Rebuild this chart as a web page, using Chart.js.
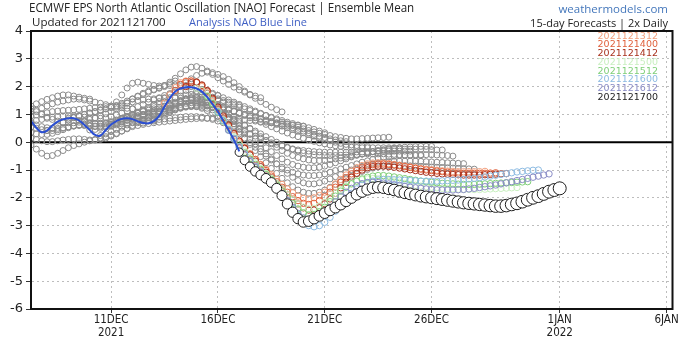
<!DOCTYPE html>
<html>
<head>
<meta charset="utf-8">
<script src="https://cdn.jsdelivr.net/npm/chart.js@4.4.0/dist/chart.umd.min.js"></script>
<style>
  html, body { margin: 0; padding: 0; background: #fff; }
  #wrap { position: relative; width: 680px; height: 339px; overflow: hidden; }
  #nao { position: absolute; left: 0; top: 0; }
  .txt { position: absolute; white-space: nowrap; font-family: 'Open Sans', 'Noto Sans', sans-serif; color: #222; line-height: 1; }
  #title { left: 29px; top: 1px; font-size: 13.5px; transform: scaleX(0.86); transform-origin: left top; }
  #updated { left: 32px; top: 16px; font-size: 11.5px; }
  #analysis { left: 189px; top: 16px; font-size: 11px; color: #3f5fc4; }
  #site { right: 12px; top: 3px; font-size: 11.5px; color: #4477bb; }
  #freq { right: 12px; top: 17px; font-size: 11px; }
  #runs { position: absolute; right: 22px; top: 31.5px; text-align: right; font: 9.5px 'DejaVu Sans', sans-serif; line-height: 8.8px; }
</style>
</head>
<body>
<div id="wrap">
  <canvas id="nao" width="680" height="339"></canvas>
  <div class="txt" id="title">ECMWF EPS North Atlantic Oscillation [NAO] Forecast | Ensemble Mean</div>
  <div class="txt" id="updated">Updated for 2021121700</div>
  <div class="txt" id="analysis">Analysis NAO Blue Line</div>
  <div class="txt" id="site">weathermodels.com</div>
  <div class="txt" id="freq">15-day Forecasts | 2x Daily</div>
  <div id="runs"></div>
</div>
<script>
// x values are days counted from 1 Dec 2021 00Z (1 Jan = 32), one point every 6 hours
const STEP = 0.25;
const xTickDays = [11, 16, 21, 26, 32, 37];
const xTickLabels = [['11DEC', '2021'], '16DEC', '21DEC', '26DEC', ['1JAN', '2022'], '6JAN'];

// analysis (blue line), from 7 Dec 06Z
const analysisStart = 7.25;
const analysis = [0.77, 0.52, 0.36, 0.42, 0.6, 0.74, 0.82, 0.86, 0.86, 0.78, 0.62, 0.44,
  0.26, 0.24, 0.44, 0.64, 0.76, 0.84, 0.86, 0.83, 0.75, 0.69, 0.68, 0.76,
  0.95, 1.28, 1.58, 1.82, 1.93, 1.98, 1.98, 1.93, 1.82, 1.62, 1.37, 1.1,
  0.77, 0.43, 0.08, -0.33];

// older runs (grey), [first day shown, values]
const gNov25 = [7.25, [1.3, 1.38, 1.46, 1.54, 1.6, 1.66, 1.7, 1.7, 1.66, 1.62, 1.58, 1.55]];
const gNov27 = [7.25, [1.1, 1.15, 1.22, 1.3, 1.38, 1.44, 1.48, 1.52, 1.55, 1.55, 1.52, 1.48,
  1.44, 1.4, 1.35, 1.3, 1.26, 1.24, 1.22, 1.2]];
const gNov29 = [7.25, [0.95, 0.98, 1.02, 1.06, 1.1, 1.12, 1.14, 1.15, 1.16, 1.18, 1.2, 1.22,
  1.24, 1.26, 1.28, 1.3, 1.45, 1.7, 1.95, 2.12, 2.16, 2.12, 2.08, 2.04, 2.02, 2.04, 2.1, 2.2]];
const gDec01 = [7.25, [0.75, 0.78, 0.82, 0.86, 0.9, 0.92, 0.94, 0.95, 0.95, 0.93, 0.9, 0.88,
  0.86, 0.86, 0.88, 0.92, 0.98, 1.05, 1.12, 1.2, 1.28, 1.36, 1.44, 1.52,
  1.6, 1.68, 1.75, 1.8, 1.84, 1.86, 1.86, 1.84, 1.8, 1.76, 1.72, 1.68]];
const gDec02 = [7.25, [0.55, 0.5, 0.45, 0.42, 0.42, 0.45, 0.5, 0.55, 0.6, 0.62, 0.62, 0.6,
  0.58, 0.58, 0.6, 0.65, 0.72, 0.8, 0.88, 0.96, 1.04, 1.12, 1.2, 1.28,
  1.36, 1.44, 1.52, 1.6, 1.66, 1.7, 1.72, 1.72, 1.7, 1.66, 1.62, 1.56, 1.5, 1.44, 1.38, 1.32]];
const gDec03 = [7.25, [1.2, 1.1, 1.0, 0.9, 0.82, 0.76, 0.72, 0.7, 0.7, 0.72, 0.76, 0.82,
  0.88, 0.95, 1.02, 1.1, 1.2, 1.3, 1.42, 1.55, 1.66, 1.76, 1.84, 1.9,
  1.96, 2.04, 2.16, 2.3, 2.46, 2.6, 2.7, 2.72, 2.66, 2.56, 2.44, 2.32,
  2.2, 2.08, 1.98, 1.88, 1.8, 1.72, 1.66, 1.6]];
const gDec04 = [7.25, [0.35, 0.3, 0.28, 0.28, 0.32, 0.38, 0.45, 0.52, 0.58, 0.62, 0.65, 0.66,
  0.66, 0.65, 0.66, 0.7, 0.76, 0.84, 0.92, 1.0, 1.08, 1.16, 1.25, 1.35,
  1.46, 1.58, 1.72, 1.86, 2.0, 2.14, 2.28, 2.4, 2.48, 2.52, 2.5, 2.44,
  2.36, 2.26, 2.14, 2.0, 1.84, 1.7, 1.58, 1.46, 1.36, 1.26, 1.17, 1.09]];
const gDec05 = [7.25, [-0.1, -0.25, -0.4, -0.5, -0.48, -0.4, -0.3, -0.2, -0.12, -0.06, 0.0, 0.05,
  0.1, 0.15, 0.2, 0.25, 0.32, 0.4, 0.48, 0.56, 0.6, 0.64, 0.67, 0.7,
  0.72, 0.74, 0.76, 0.78, 0.8, 0.82, 0.84, 0.85, 0.86, 0.86, 0.86, 0.86,
  0.85, 0.84, 0.83, 0.82, 0.8, 0.78, 0.76, 0.74, 0.72, 0.7, 0.68, 0.66, 0.64, 0.62, 0.6, 0.58]];
const gDec06 = [7.25, [0.15, 0.1, 0.05, 0.02, 0.02, 0.05, 0.08, 0.1, 0.12, 0.12, 0.1, 0.08,
  0.08, 0.1, 0.15, 0.22, 0.3, 0.4, 0.5, 0.6, 0.7, 0.8, 0.9, 1.0,
  1.1, 1.2, 1.3, 1.4, 1.48, 1.55, 1.6, 1.62, 1.62, 1.6, 1.56, 1.5,
  1.44, 1.38, 1.32, 1.26, 1.2, 1.14, 1.08, 1.02, 0.96, 0.9, 0.84, 0.78,
  0.72, 0.67, 0.62, 0.57, 0.52, 0.46, 0.4, 0.34]];
const gDec07 = [7.25, [0.7, 0.62, 0.56, 0.52, 0.5, 0.5, 0.52, 0.55, 0.58, 0.6, 0.6, 0.58,
  0.56, 0.55, 0.56, 0.6, 0.66, 0.72, 0.78, 0.85, 0.9, 0.95, 1.0, 1.04,
  1.08, 1.12, 1.16, 1.2, 1.24, 1.28, 1.3, 1.32, 1.32, 1.3, 1.28, 1.24,
  1.2, 1.15, 1.1, 1.05, 1.0, 0.95, 0.9, 0.85, 0.8, 0.75, 0.7, 0.64,
  0.58, 0.52, 0.46, 0.4, 0.34, 0.28, 0.22, 0.17, 0.12, 0.08, 0.05, 0.02]];
const gDec08 = [8.0, [0.42, 0.5, 0.6, 0.7, 0.8, 0.88, 0.95, 1.0, 1.05, 1.1, 1.15, 1.2, 1.25,
  1.3, 1.35, 1.4, 1.45, 1.5, 1.52, 1.55, 1.56, 1.58, 1.6, 1.6, 1.6,
  1.58, 1.56, 1.52, 1.48, 1.44, 1.4, 1.35, 1.3, 1.24, 1.18, 1.12, 1.06,
  1.0, 0.94, 0.88, 0.82, 0.76, 0.7, 0.64, 0.58, 0.52, 0.46, 0.4, 0.34,
  0.28, 0.22, 0.16, 0.1, 0.05, 0.0, -0.04, -0.08, -0.1, -0.12, -0.14, -0.15]];
const gDec09 = [9.0, [0.86, 0.9, 0.95, 1.0, 1.05, 1.1, 1.15, 1.2, 1.25, 1.32, 1.4, 1.48, 1.56,
  1.64, 1.72, 1.8, 1.88, 1.94, 2.0, 2.04, 2.06, 2.06, 2.04, 2.0, 1.95,
  1.9, 1.84, 1.76, 1.68, 1.6, 1.52, 1.44, 1.36, 1.28, 1.2, 1.12, 1.04,
  0.96, 0.88, 0.8, 0.72, 0.66, 0.6, 0.54, 0.48, 0.42, 0.37, 0.32, 0.28,
  0.24, 0.2, 0.17, 0.14, 0.12, 0.12, 0.13, 0.14, 0.15, 0.16, 0.17, 0.18]];
const gDec09h = [9.5, [0.78, 0.74, 0.7, 0.68, 0.68, 0.7, 0.74, 0.8, 0.86, 0.92, 0.98, 1.04, 1.1,
  1.15, 1.2, 1.25, 1.3, 1.35, 1.4, 1.44, 1.48, 1.5, 1.5, 1.48, 1.45,
  1.4, 1.34, 1.27, 1.2, 1.12, 1.04, 0.96, 0.88, 0.8, 0.72, 0.64, 0.56,
  0.48, 0.4, 0.33, 0.26, 0.2, 0.14, 0.08, 0.03, -0.02, -0.06, -0.1, -0.13,
  -0.15, -0.17, -0.18, -0.19, -0.2, -0.2, -0.2, -0.2, -0.2, -0.2, -0.2, -0.2]];
const gDec10 = [10.0, [0.44, 0.46, 0.5, 0.54, 0.58, 0.62, 0.66, 0.7, 0.72, 0.74, 0.76, 0.78, 0.8,
  0.82, 0.84, 0.86, 0.88, 0.9, 0.92, 0.92, 0.92, 0.9, 0.86, 0.82, 0.76,
  0.7, 0.62, 0.54, 0.46, 0.38, 0.3, 0.22, 0.14, 0.06, -0.02, -0.08, -0.14,
  -0.2, -0.24, -0.28, -0.3, -0.32, -0.34, -0.35, -0.36, -0.36, -0.36, -0.36, -0.36,
  -0.36, -0.35, -0.35, -0.34, -0.34, -0.33, -0.33, -0.32, -0.32, -0.32, -0.32, -0.32]];
const gDec10h = [10.5, [0.24, 0.3, 0.38, 0.46, 0.54, 0.62, 0.7, 0.76, 0.82, 0.88, 0.94, 1.0, 1.06,
  1.12, 1.18, 1.22, 1.26, 1.28, 1.28, 1.26, 1.22, 1.16, 1.08, 1.0, 0.9,
  0.8, 0.7, 0.6, 0.5, 0.4, 0.3, 0.2, 0.1, 0.0, -0.1, -0.18, -0.26,
  -0.32, -0.38, -0.42, -0.45, -0.47, -0.48, -0.48, -0.48, -0.47, -0.46, -0.45, -0.44,
  -0.43, -0.42, -0.42, -0.42, -0.42, -0.43, -0.44, -0.45, -0.46, -0.47, -0.48, -0.48]];
const gDec11 = [11.0, [0.64, 0.7, 0.76, 0.82, 0.88, 0.94, 1.0, 1.06, 1.12, 1.2, 1.28, 1.36, 1.44,
  1.5, 1.54, 1.56, 1.56, 1.52, 1.46, 1.38, 1.28, 1.16, 1.04, 0.9, 0.76,
  0.62, 0.48, 0.34, 0.2, 0.06, -0.06, -0.18, -0.3, -0.4, -0.48, -0.55, -0.6,
  -0.64, -0.66, -0.66, -0.65, -0.63, -0.6, -0.57, -0.54, -0.5, -0.46, -0.42, -0.38,
  -0.34, -0.3, -0.27, -0.24, -0.22, -0.2, -0.18, -0.17, -0.16, -0.15, -0.15, -0.15]];
const gDec11h = [11.5, [0.84, 0.88, 0.92, 0.96, 1.0, 1.04, 1.08, 1.12, 1.18, 1.24, 1.3, 1.36, 1.4,
  1.42, 1.42, 1.4, 1.34, 1.26, 1.16, 1.04, 0.9, 0.76, 0.6, 0.44, 0.28,
  0.12, -0.04, -0.2, -0.34, -0.48, -0.6, -0.72, -0.8, -0.86, -0.9, -0.92, -0.92,
  -0.9, -0.86, -0.8, -0.74, -0.67, -0.6, -0.53, -0.47, -0.42, -0.38, -0.34, -0.31,
  -0.29, -0.27, -0.26, -0.25, -0.25, -0.25, -0.25, -0.25, -0.26, -0.27, -0.28, -0.28]];
const gDec12 = [12.0, [0.83, 0.86, 0.9, 0.94, 1.0, 1.06, 1.12, 1.18, 1.24, 1.28, 1.3, 1.3, 1.28,
  1.22, 1.14, 1.04, 0.92, 0.78, 0.62, 0.46, 0.3, 0.14, -0.02, -0.18, -0.34,
  -0.5, -0.64, -0.78, -0.9, -1.0, -1.08, -1.14, -1.18, -1.2, -1.2, -1.18, -1.14,
  -1.08, -1.02, -0.96, -0.9, -0.84, -0.78, -0.72, -0.67, -0.62, -0.58, -0.55, -0.52,
  -0.5, -0.48, -0.47, -0.46, -0.45, -0.45, -0.45, -0.45, -0.46, -0.47, -0.48, -0.5]];
const gDec12h = [12.5, [0.69, 0.76, 0.84, 0.92, 1.0, 1.08, 1.16, 1.24, 1.3, 1.34, 1.36, 1.36, 1.32,
  1.24, 1.14, 1.0, 0.84, 0.66, 0.48, 0.3, 0.12, -0.06, -0.24, -0.42, -0.6,
  -0.78, -0.96, -1.12, -1.26, -1.38, -1.46, -1.5, -1.5, -1.46, -1.4, -1.32, -1.24,
  -1.16, -1.08, -1.0, -0.93, -0.87, -0.82, -0.78, -0.75, -0.72, -0.7, -0.69, -0.68,
  -0.68, -0.68, -0.68, -0.69, -0.7, -0.71, -0.72, -0.73, -0.74, -0.75, -0.76, -0.77]];
const gDec13 = [13.0, [0.76, 0.9, 1.06, 1.22, 1.36, 1.48, 1.56, 1.6, 1.6, 1.55, 1.46, 1.34, 1.18,
  1.0, 0.8, 0.58, 0.36, 0.14, -0.08, -0.3, -0.52, -0.74, -0.94, -1.12, -1.3,
  -1.46, -1.6, -1.72, -1.8, -1.84, -1.84, -1.8, -1.72, -1.62, -1.52, -1.42, -1.32,
  -1.22, -1.13, -1.05, -0.98, -0.93, -0.89, -0.86, -0.84, -0.83, -0.83, -0.84, -0.85,
  -0.86, -0.87, -0.88, -0.89, -0.9, -0.91, -0.92, -0.93, -0.94, -0.95, -0.96, -0.97]];

// latest runs (coloured), one list each, starting at the run time
const c1312 = [13.5, [1.4, 1.7, 1.96, 2.14, 2.2, 2.2, 2.14, 2.0, 1.78, 1.46, 1.14, 0.82, 0.52,
  0.24, -0.02, -0.24, -0.44, -0.62, -0.8, -0.98, -1.16, -1.34, -1.52, -1.68, -1.82,
  -1.94, -2.02, -2.04, -2.0, -1.92, -1.8, -1.66, -1.5, -1.34, -1.18, -1.04, -0.92,
  -0.84, -0.78, -0.75, -0.74, -0.75, -0.77, -0.8, -0.83, -0.86, -0.89, -0.92, -0.95,
  -0.97, -0.99, -1.01, -1.03, -1.04, -1.05, -1.06, -1.06, -1.06, -1.06, -1.06, -1.05]];
const c1400 = [14.0, [1.86, 2.08, 2.18, 2.2, 2.16, 2.04, 1.84, 1.54, 1.2, 0.88, 0.58, 0.3, 0.04,
  -0.2, -0.42, -0.62, -0.82, -1.02, -1.22, -1.42, -1.62, -1.8, -1.96, -2.1, -2.2,
  -2.24, -2.2, -2.1, -1.96, -1.8, -1.62, -1.44, -1.28, -1.14, -1.02, -0.92, -0.85,
  -0.81, -0.79, -0.79, -0.8, -0.82, -0.85, -0.88, -0.91, -0.94, -0.97, -1.0, -1.02,
  -1.04, -1.06, -1.08, -1.1, -1.11, -1.12, -1.12, -1.12, -1.12, -1.12, -1.11, -1.1]];
const c1412 = [14.5, [2.0, 2.14, 2.16, 2.06, 1.86, 1.58, 1.26, 0.94, 0.62, 0.32, 0.04, -0.22, -0.46,
  -0.68, -0.88, -1.08, -1.28, -1.48, -1.68, -1.88, -2.06, -2.22, -2.36, -2.44, -2.44,
  -2.36, -2.22, -2.04, -1.84, -1.64, -1.44, -1.26, -1.12, -1.0, -0.92, -0.88, -0.86,
  -0.86, -0.88, -0.9, -0.93, -0.96, -0.99, -1.02, -1.05, -1.08, -1.1, -1.12, -1.14,
  -1.15, -1.16, -1.17, -1.18, -1.18, -1.18, -1.18, -1.17, -1.16, -1.15, -1.14, -1.13]];
const c1500 = [15.0, [1.94, 1.86, 1.68, 1.42, 1.12, 0.8, 0.5, 0.2, -0.08, -0.32, -0.54, -0.74, -0.94,
  -1.12, -1.3, -1.48, -1.68, -1.88, -2.06, -2.22, -2.34, -2.4, -2.38, -2.3, -2.16,
  -2.0, -1.84, -1.7, -1.58, -1.48, -1.4, -1.35, -1.32, -1.31, -1.32, -1.34, -1.37,
  -1.4, -1.44, -1.48, -1.52, -1.55, -1.58, -1.6, -1.62, -1.64, -1.66, -1.67, -1.68,
  -1.69, -1.7, -1.7, -1.7, -1.7, -1.69, -1.68, -1.67, -1.66, -1.65, -1.64, -1.63]];
const c1512 = [15.5, [1.64, 1.38, 1.08, 0.76, 0.44, 0.14, -0.14, -0.38, -0.6, -0.8, -0.98, -1.16, -1.34,
  -1.54, -1.76, -1.98, -2.2, -2.4, -2.54, -2.62, -2.6, -2.5, -2.34, -2.14, -1.94,
  -1.76, -1.62, -1.5, -1.4, -1.32, -1.26, -1.22, -1.2, -1.2, -1.22, -1.25, -1.28,
  -1.31, -1.34, -1.37, -1.4, -1.42, -1.44, -1.46, -1.48, -1.49, -1.5, -1.51, -1.52,
  -1.52, -1.52, -1.51, -1.5, -1.49, -1.48, -1.47, -1.46, -1.45, -1.44, -1.43, -1.42]];
const c1600 = [16.0, [1.1, 0.78, 0.46, 0.14, -0.16, -0.42, -0.66, -0.86, -1.04, -1.22, -1.4, -1.6, -1.84,
  -2.1, -2.38, -2.64, -2.86, -3.0, -3.04, -3.0, -2.88, -2.7, -2.48, -2.26, -2.04,
  -1.84, -1.68, -1.55, -1.46, -1.4, -1.36, -1.34, -1.34, -1.35, -1.36, -1.37, -1.38,
  -1.39, -1.4, -1.4, -1.4, -1.4, -1.39, -1.38, -1.37, -1.36, -1.34, -1.32, -1.3,
  -1.28, -1.25, -1.22, -1.19, -1.16, -1.13, -1.1, -1.07, -1.05, -1.03, -1.01, -1.0]];
const c1612 = [16.5, [0.43, 0.1, -0.2, -0.46, -0.7, -0.9, -1.08, -1.26, -1.44, -1.64, -1.86, -2.1, -2.34,
  -2.56, -2.72, -2.8, -2.78, -2.68, -2.52, -2.34, -2.14, -1.96, -1.8, -1.66, -1.56,
  -1.49, -1.45, -1.44, -1.45, -1.47, -1.5, -1.53, -1.56, -1.59, -1.62, -1.64, -1.66,
  -1.68, -1.7, -1.71, -1.72, -1.72, -1.72, -1.71, -1.7, -1.68, -1.66, -1.63, -1.6,
  -1.57, -1.54, -1.5, -1.46, -1.42, -1.38, -1.34, -1.3, -1.26, -1.22, -1.18, -1.14]];
const c1700 = [17.0, [-0.36, -0.65, -0.88, -1.05, -1.18, -1.3, -1.45, -1.66, -1.92, -2.22, -2.52, -2.75, -2.87,
  -2.84, -2.75, -2.65, -2.55, -2.45, -2.35, -2.24, -2.12, -2.0, -1.88, -1.78, -1.7,
  -1.64, -1.62, -1.64, -1.68, -1.72, -1.77, -1.82, -1.86, -1.9, -1.94, -1.97, -2.0,
  -2.03, -2.06, -2.09, -2.12, -2.15, -2.18, -2.2, -2.22, -2.24, -2.26, -2.28, -2.3,
  -2.3, -2.28, -2.24, -2.2, -2.14, -2.07, -2.0, -1.94, -1.86, -1.78, -1.72, -1.66]];

const greyRuns = [gNov25, gNov27, gNov29, gDec01, gDec02, gDec03, gDec04, gDec05, gDec06, gDec07,
  gDec08, gDec09, gDec09h, gDec10, gDec10h, gDec11, gDec11h, gDec12, gDec12h, gDec13];
const runLabels = ['2021121312', '2021121400', '2021121412', '2021121500', '2021121512', '2021121600', '2021121612', '2021121700'];
const runColors = ['#f2a07e', '#e0623e', '#a8321e', '#c9efc0', '#7fcf78', '#8dbbe2', '#8a8cc6', '#1e1e1e'];
const runs = [c1312, c1400, c1412, c1500, c1512, c1600, c1612, c1700];

const toPoints = (start, values) => values.map((v, i) => ({ x: start + i * STEP, y: v }));

const datasets = [];
datasets.push({
  type: 'line',
  data: toPoints(analysisStart, analysis),
  borderColor: '#2b4fd2',
  borderWidth: 2,
  pointRadius: 0,
  tension: 0.4,
  showLine: true,
  order: 0,
});
runs.forEach(([start, values], i) => {
  const latest = i === runs.length - 1;
  datasets.push({
    label: runLabels[i],
    data: toPoints(start, values),
    showLine: false,
    // latest run: circles grow with lead time
    pointRadius: latest ? (ctx) => 4.2 + 2.3 * Math.sqrt(ctx.dataIndex / 60) : 3.2,
    pointBorderWidth: 1,
    pointBorderColor: runColors[i],
    pointBackgroundColor: latest ? '#ffffff' : 'rgba(0,0,0,0)',
    order: latest ? 1 : 9 - i,
  });
});
greyRuns.forEach(([start, values]) => {
  datasets.push({
    data: toPoints(start, values),
    showLine: false,
    pointRadius: 3,
    pointBorderWidth: 1,
    pointBorderColor: '#8a8a8a',
    pointBackgroundColor: 'rgba(0,0,0,0)',
    order: 20,
  });
});

document.querySelector('#runs').innerHTML = runLabels
  .map((l, i) => `<div style="color:${runColors[i]}">${l}</div>`).join('');

// zero line under the marks, black frame on top
const naoFrame = {
  id: 'naoFrame',
  beforeDatasetsDraw(chart) {
    const { ctx, chartArea, scales } = chart;
    const y0 = scales.y.getPixelForValue(0);
    ctx.save();
    ctx.strokeStyle = '#000';
    ctx.lineWidth = 2;
    ctx.beginPath();
    ctx.moveTo(chartArea.left, y0);
    ctx.lineTo(chartArea.right, y0);
    ctx.stroke();
    ctx.restore();
  },
  afterDraw(chart) {
    const { ctx, chartArea } = chart;
    ctx.save();
    ctx.strokeStyle = '#111';
    ctx.lineWidth = 2;
    ctx.strokeRect(chartArea.left, chartArea.top, chartArea.right - chartArea.left, chartArea.bottom - chartArea.top);
    ctx.restore();
  },
};

new Chart(document.querySelector('#nao'), {
  type: 'scatter',
  data: { datasets },
  plugins: [naoFrame],
  options: {
    responsive: false,
    animation: false,
    events: [],
    layout: { padding: { top: 31, right: 7, left: 0, bottom: 0 } },
    plugins: { legend: { display: false }, tooltip: { enabled: false } },
    scales: {
      x: {
        type: 'linear',
        min: 7.25,
        max: 37.28,
        afterBuildTicks: (scale) => { scale.ticks = xTickDays.map((v) => ({ value: v })); },
        afterFit: (scale) => { scale.height = 30; },
        ticks: {
          autoSkip: false,
          maxRotation: 0,
          padding: 1,
          color: '#222',
          font: { family: "'DejaVu Sans Condensed', 'DejaVu Sans', sans-serif", size: 11.5, lineHeight: 1.12 },
          callback: (value) => {
            const i = xTickDays.indexOf(value);
            return i >= 0 ? xTickLabels[i] : '';
          },
        },
        grid: { color: '#bdbdbd', lineWidth: 1, tickLength: 4, tickColor: '#333' },
        border: { display: true, color: '#111', width: 2, dash: [2, 3] },
      },
      y: {
        min: -6,
        max: 4,
        afterFit: (scale) => { scale.width = 31; },
        ticks: {
          stepSize: 1,
          padding: 3,
          color: '#222',
          font: { family: "'DejaVu Sans', sans-serif", size: 13 },
        },
        grid: { color: '#bdbdbd', lineWidth: 1, tickLength: 5, tickColor: '#333' },
        border: { display: true, color: '#111', width: 2, dash: [2, 3] },
      },
    },
  },
});
</script>
</body>
</html>
